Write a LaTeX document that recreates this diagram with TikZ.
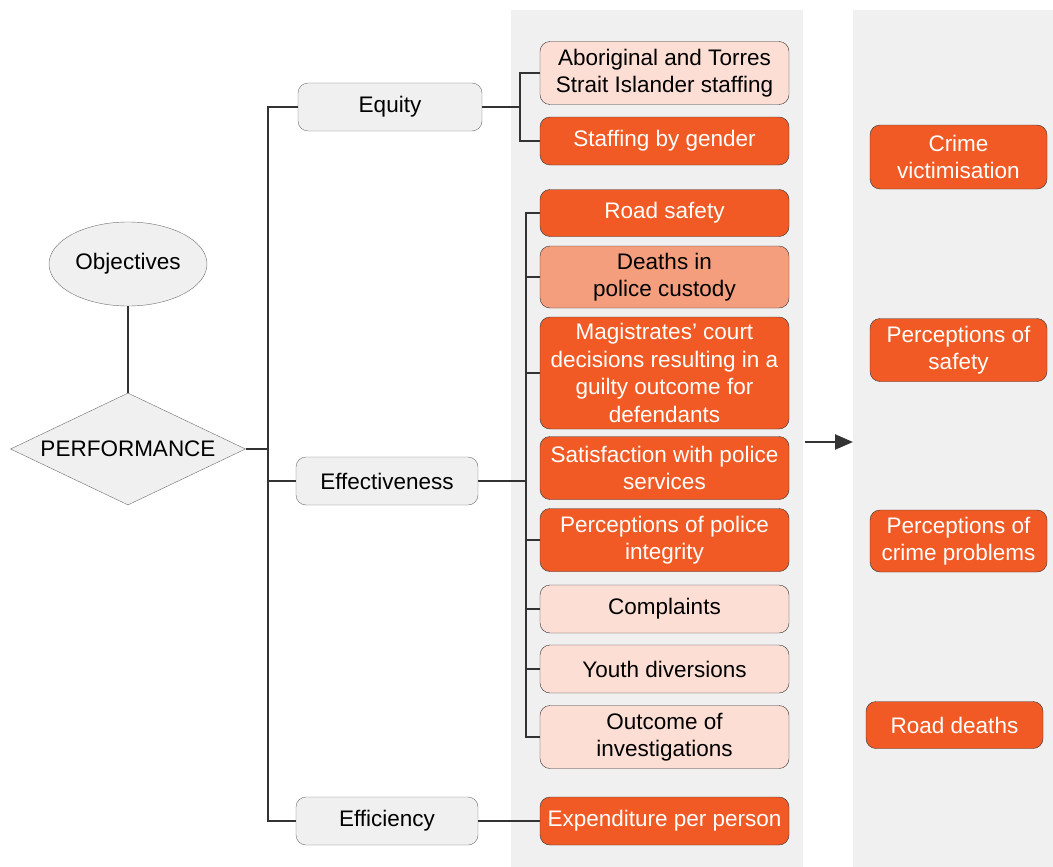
\documentclass[tikz,border=0pt]{standalone}
\usepackage{fontspec}
\setmainfont{Liberation Sans}
\usepackage{xcolor}
\usepackage{tikz}
\usetikzlibrary{shapes.geometric, arrows.meta, positioning, calc}
\definecolor{panelgrey}{HTML}{F0F0F0}
\definecolor{nodegrey}{HTML}{F0F0F0}
\definecolor{edgegrey}{HTML}{6E6E6E}
\definecolor{pioorange}{HTML}{F15A24}
\definecolor{midorange}{HTML}{F59E7E}
\definecolor{lightpeach}{HTML}{FCDED4}
\definecolor{lineblack}{HTML}{333333}

\begin{document}
\begin{tikzpicture}[
  x=1pt, y=-1pt,
  every node/.style={font=\fontsize{22.5}{27.5}\selectfont, align=center},
  greybox/.style={draw=edgegrey, fill=nodegrey, rounded corners=10pt, minimum width=184pt, minimum height=48pt},
  measbox/.style={draw=lineblack, rounded corners=10pt, minimum width=249pt, inner sep=1pt},
  hot/.style={measbox, fill=pioorange, text=white},
  mid/.style={measbox, fill=midorange, text=black},
  cool/.style={measbox, fill=lightpeach, text=black},
  outbox/.style={draw=lineblack, fill=pioorange, text=white, rounded corners=10pt, minimum width=177pt, inner sep=1pt},
  conn/.style={draw=lineblack, line width=1.1pt},
  arr/.style={-{Triangle[length=18pt, width=15pt]}, line width=2.4pt, draw=lineblack, color=lineblack},
]
  \useasboundingbox (0,0) rectangle (1053,867);
  \fill[panelgrey] (511,10) rectangle (803,867);
  \fill[panelgrey] (853,10) rectangle (1053,867);

  % objectives and framework
  \node[ellipse, draw=edgegrey, fill=nodegrey, minimum width=158pt, minimum height=84pt] (obj) at (128,264) {Objectives};
  \node[diamond, aspect=2.1, draw=edgegrey, fill=nodegrey, minimum width=235pt, minimum height=112pt, inner sep=0pt] (perf) at (128,449) {PERFORMANCE};
  \draw[conn] (obj) -- (perf);

  \node[greybox] (equity) at (390,107) {Equity};
  \node[greybox, minimum width=182pt] (effect) at (387,481) {Effectiveness};
  \node[greybox, minimum width=182pt] (effic) at (387,821) {Efficiency};

  \coordinate (tk) at (268,449);
  \draw[conn] (perf.east) -- (tk);
  \draw[conn] (equity.west) -| (tk) |- (effic.west);
  \draw[conn] (tk |- effect.west) -- (effect.west);

  % equity indicators
  \node[cool, minimum height=63pt] (abor) at (664.5,73) {Aboriginal and Torres\\Strait Islander staffing};
  \node[hot, minimum height=48pt] (gender) at (664.5,141) {Staffing by gender};
  \coordinate (eqj) at (520,107);
  \draw[conn] (equity.east) -- (eqj);
  \draw[conn] (abor.west) -| (eqj) |- (gender.west);

  % effectiveness indicators
  \node[hot, minimum height=47pt] (road) at (664.5,213) {Road safety};
  \node[mid, minimum height=62pt] (deaths) at (664.5,277) {Deaths in\\police custody};
  \node[hot, minimum height=112pt] (magis) at (664.5,373) {Magistrates' court\\decisions resulting in a\\guilty outcome for\\defendants};
  \node[hot, minimum height=63pt] (satis) at (664.5,468) {Satisfaction with police\\services};
  \node[hot, minimum height=63pt] (integ) at (664.5,540) {Perceptions of police\\integrity};
  \node[cool, minimum height=48pt] (compl) at (664.5,609) {Complaints};
  \node[cool, minimum height=48pt] (youth) at (664.5,669) {Youth diversions};
  \node[cool, minimum height=63pt] (outcome) at (664.5,737) {Outcome of\\investigations};
  \coordinate (efj) at (526,481);
  \draw[conn] (effect.east) -- (efj);
  \draw[conn] (road.west) -| (efj) |- (outcome.west);
  \foreach \n in {deaths, magis, integ, compl, youth}
    \draw[conn] (efj |- \n.west) -- (\n.west);

  % efficiency indicator
  \node[hot, minimum height=48pt] (expend) at (664.5,821) {Expenditure per person};
  \draw[conn] (effic.east) -- (expend.west);

  % outcomes
  \coordinate (arrs) at (805,442);
  \coordinate (arre) at (853,442);
  \draw[arr] (arrs) -- (arre);

  \node[outbox, minimum height=64pt] (victim) at (958.5,157) {Crime\\victimisation};
  \node[outbox, minimum height=63pt] (psafe) at (958.5,350) {Perceptions of\\safety};
  \node[outbox, minimum height=62pt] (pcrime) at (958.5,541) {Perceptions of\\crime problems};
  \node[outbox, minimum height=47pt] (rdeath) at (954.5,725) {Road deaths};

\end{tikzpicture}
\end{document}
